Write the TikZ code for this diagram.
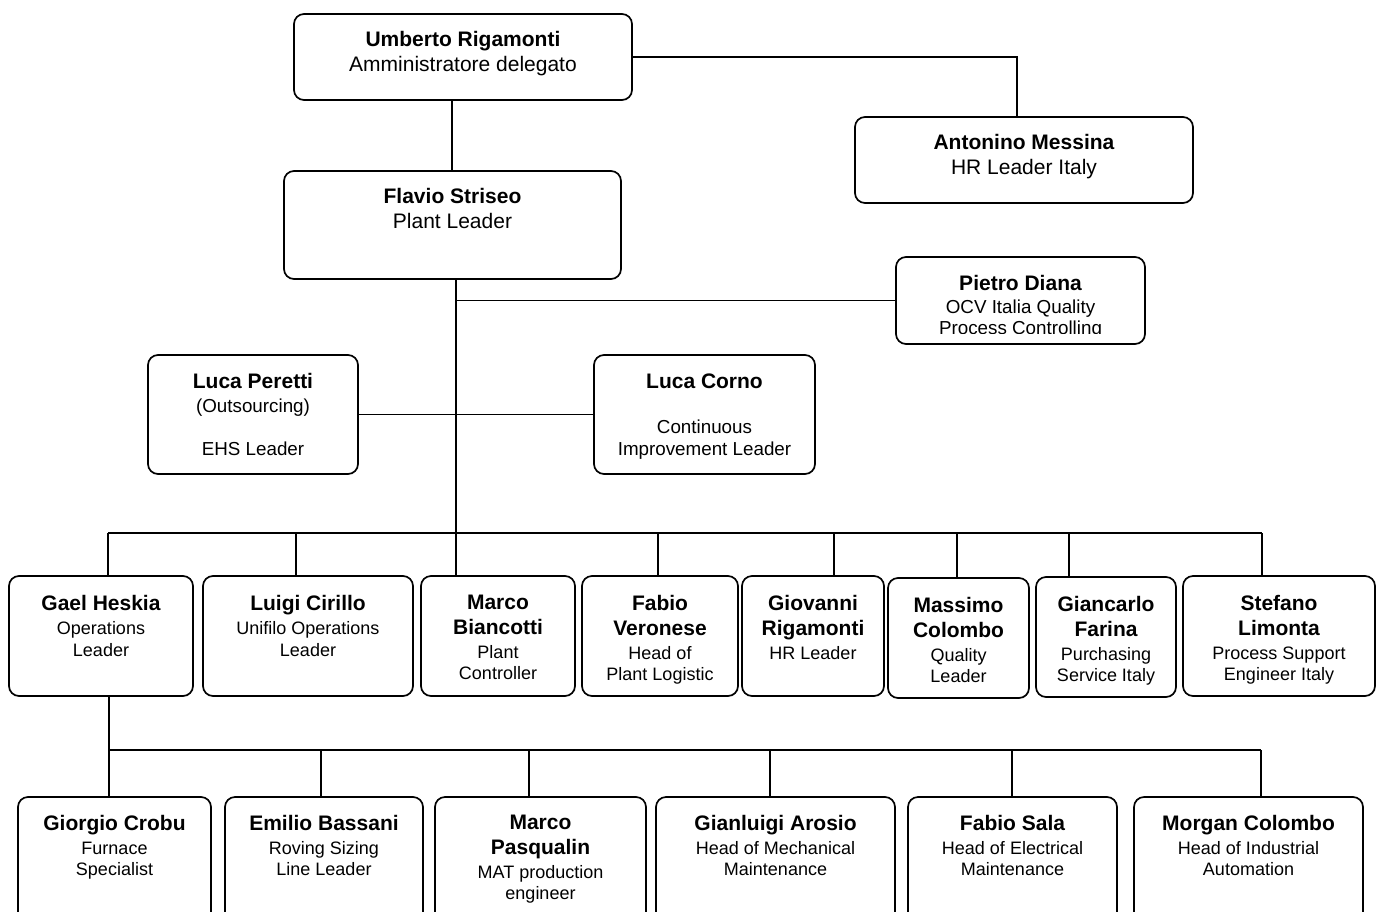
\documentclass[tikz,border=0pt]{standalone}
\usepackage{fontspec}
\setmainfont{Liberation Sans}
\usetikzlibrary{fit,calc}
\tikzset{
  orgbox/.style={draw, line width=1.7pt, rounded corners=10pt, inner sep=0pt},
  link/.style={line width=1.7pt},
  bigtxt/.style={anchor=north, align=center, inner sep=0pt, font=\fontsize{21}{25}\selectfont},
  midtxt/.style={anchor=north, align=center, inner sep=0pt, font=\fontsize{18.8}{21.5}\selectfont},
  smalltxt/.style={anchor=north, align=center, inner sep=0pt, font=\fontsize{18}{21.5}\selectfont},
}
\newcommand{\nm}[1]{{\fontsize{21}{25}\selectfont\bfseries #1}}
\begin{document}
\begin{tikzpicture}[x=1pt,y=-1pt]
\useasboundingbox (0,0) rectangle (1381,911);
\clip (0,0) rectangle (1381,911);
\fill[white] (0,0) rectangle (1381,911);

% ---- top level boxes
\node[orgbox, fit={(294,14)(632,100)}] (umb) {};
\node[bigtxt] (umbt) at ([yshift=-18pt]umb.north) {\textbf{Umberto Rigamonti}\\Amministratore delegato};

\node[orgbox, fit={(855,117)(1193,203)}] (anton) {};
\node[bigtxt] (antont) at ([yshift=-18pt]anton.north) {\textbf{Antonino Messina}\\HR Leader Italy};

\node[orgbox, fit={(284,171)(621,279)}] (flavio) {};
\node[bigtxt] (flaviot) at ([yshift=-18pt]flavio.north) {\textbf{Flavio Striseo}\\Plant Leader};

\node[orgbox, fit={(896,257)(1145,344)}] (pietro) {};
\begin{scope}
  \clip (896,257) rectangle (1145,333);
  \node[midtxt] (pietrot) at ([yshift=-18.5pt]pietro.north) {\nm{Pietro Diana}\\[1.5pt]OCV Italia Quality\\Process Controlling};
\end{scope}

\node[orgbox, fit={(148,355)(358,474)}] (peretti) {};
\node[midtxt] (perettit) at ([yshift=-19pt]peretti.north) {\nm{Luca Peretti}\\[2.5pt](Outsourcing)\\ \\EHS Leader};

\node[orgbox, fit={(594,355)(815,474)}] (corno) {};
\node[midtxt] (cornot) at ([yshift=-19pt]corno.north) {\nm{Luca Corno}\\[2.5pt] \\Continuous\\Improvement Leader};

% ---- second row
\node[orgbox, fit={(9,576)(193,696)}] (gael) {};
\node[smalltxt] (gaelt) at ([yshift=-19.5pt]gael.north) {\nm{Gael Heskia}\\[3pt]Operations\\Leader};

\node[orgbox, fit={(203,576)(413,696)}] (luigi) {};
\node[smalltxt] (luigit) at ([yshift=-19.5pt]luigi.north) {\nm{Luigi Cirillo}\\[3pt]Unifilo Operations\\Leader};

\node[orgbox, fit={(421,576)(575,696)}] (marcob) {};
\node[smalltxt] (marcobt) at ([yshift=-20pt]marcob.north) {\nm{Marco}\\[3.5pt]\nm{Biancotti}\\[2pt]Plant\\Controller};

\node[orgbox, fit={(582,576)(738,696)}] (fabiov) {};
\node[smalltxt] (fabiovt) at ([yshift=-20pt]fabiov.north) {\nm{Fabio}\\[3.5pt]\nm{Veronese}\\[2pt]Head of\\Plant Logistic};

\node[orgbox, fit={(742,576)(884,696)}] (giovanni) {};
\node[smalltxt] (giovannit) at ([yshift=-20pt]giovanni.north) {\nm{Giovanni}\\[3.5pt]\nm{Rigamonti}\\[2pt]HR Leader};

\node[orgbox, fit={(888,578)(1029,698)}] (massimo) {};
\node[smalltxt] (massimot) at ([yshift=-20pt]massimo.north) {\nm{Massimo}\\[3.5pt]\nm{Colombo}\\[2pt]Quality\\Leader};

\node[orgbox, fit={(1036,577)(1176,697)}] (giancarlo) {};
\node[smalltxt] (giancarlot) at ([yshift=-20pt]giancarlo.north) {\nm{Giancarlo}\\[3.5pt]\nm{Farina}\\[2pt]Purchasing\\Service Italy};

\node[orgbox, fit={(1183,576)(1375,696)}] (stefano) {};
\node[smalltxt] (stefanot) at ([yshift=-20pt]stefano.north) {\nm{Stefano}\\[3.5pt]\nm{Limonta}\\[2pt]Process Support\\Engineer Italy};

% ---- third row
\node[orgbox, fit={(18,797)(211,945)}] (giorgio) {};
\node[smalltxt] (giorgiot) at ([yshift=-19pt]giorgio.north) {\nm{Giorgio Crobu}\\[2pt]Furnace\\Specialist};

\node[orgbox, fit={(225,797)(423,945)}] (emilio) {};
\node[smalltxt] (emiliot) at ([yshift=-19pt]emilio.north) {\nm{Emilio Bassani}\\[2pt]Roving Sizing\\Line Leader};

\node[orgbox, fit={(435,797)(646,945)}] (marcop) {};
\node[smalltxt] (marcopt) at ([yshift=-19pt]marcop.north) {\nm{Marco}\\[3.5pt]\nm{Pasqualin}\\[2pt]MAT production\\engineer};

\node[orgbox, fit={(656,797)(895,945)}] (gianluigi) {};
\node[smalltxt] (gianluigit) at ([yshift=-19pt]gianluigi.north) {\nm{Gianluigi Arosio}\\[2pt]Head of Mechanical\\Maintenance};

\node[orgbox, fit={(908,797)(1117,945)}] (fabios) {};
\node[smalltxt] (fabiost) at ([yshift=-19pt]fabios.north) {\nm{Fabio Sala}\\[2pt]Head of Electrical\\Maintenance};

\node[orgbox, fit={(1134,797)(1363,945)}] (morgan) {};
\node[smalltxt] (morgant) at ([yshift=-19pt]morgan.north) {\nm{Morgan Colombo}\\[2pt]Head of Industrial\\Automation};

% ---- connectors
\coordinate (u1) at (452,57);
\draw[link] (u1 |- umb.south) -- (u1 |- flavio.north);
\coordinate (a1) at (1017,57);
\draw[link] (umb.east) -- (a1 |- umb.east) -- (a1 |- anton.north);

\coordinate (bus) at (456,533);
\draw[link] (flavio.south -| bus) -- (bus);
\draw[link] (pietro.west -| bus) -- (pietro.west);
\draw[link] (peretti.east) -- (corno.west);

\coordinate (d1) at (108,533);
\coordinate (d2) at (296,533);
\coordinate (d3) at (456,533);
\coordinate (d4) at (658,533);
\coordinate (d5) at (834,533);
\coordinate (d6) at (957,533);
\coordinate (d7) at (1069,533);
\coordinate (d8) at (1262,533);
\draw[link] (d1) -- (d8);
\foreach \d/\b in {d1/gael,d2/luigi,d3/marcob,d4/fabiov,d5/giovanni,d6/massimo,d7/giancarlo,d8/stefano}
  \draw[link] (\d) -- (\d |- \b.north);

\coordinate (e1) at (109,750);
\coordinate (e2) at (321,750);
\coordinate (e3) at (529,750);
\coordinate (e4) at (770,750);
\coordinate (e5) at (1012,750);
\coordinate (e6) at (1261,750);
\draw[link] (e1 |- gael.south) -- (e1);
\draw[link] (e1) -- (e6);
\foreach \d/\b in {e1/giorgio,e2/emilio,e3/marcop,e4/gianluigi,e5/fabios,e6/morgan}
  \draw[link] (\d) -- (\d |- \b.north);
\end{tikzpicture}
\end{document}
